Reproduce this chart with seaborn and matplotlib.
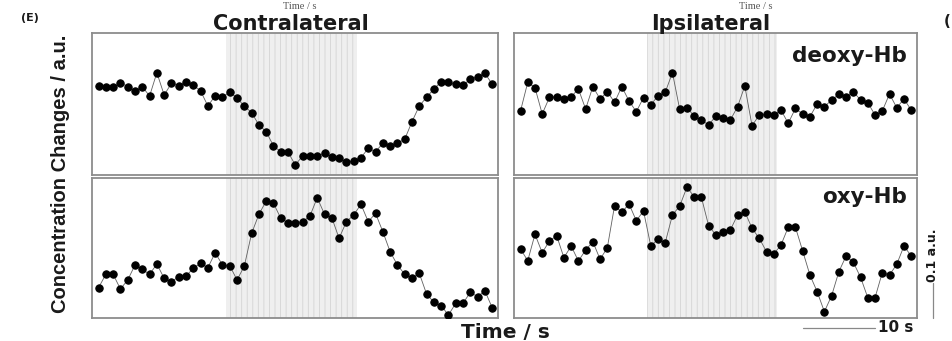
import numpy as np
import pandas as pd
import seaborn as sns
import matplotlib.pyplot as plt

# samples taken once per second, stimulation block shaded
time_s = np.arange(55)
stim_on, stim_off = 17.5, 35.5

# values in units of 1/350 a.u. (scale bar 0.1 a.u. = 35 units)
deoxy_contra = [89, 87.7, 87.7, 92.3, 88.3, 84, 88.3, 79, 102.3, 80,
                91.7, 89.3, 93.3, 90, 84, 69, 79.3, 77.7, 83.3, 76.7,
                69, 62.3, 50, 43.3, 29, 23.3, 22.7, 10, 19.3, 19,
                19, 21.7, 18.3, 16.7, 12.7, 14.3, 17.3, 26.7, 23.3, 31.7,
                29.3, 31.7, 35.7, 53.3, 69, 77.7, 86, 93.3, 92.7, 90.7,
                90, 95.7, 98.3, 101.7, 91]
oxy_contra = [30.3, 43.7, 43.7, 29, 38, 53, 48.7, 43.7, 54, 39.7,
              36.3, 41.3, 42, 49.7, 54.7, 50.3, 65.3, 53, 52.3, 38,
              52, 84.7, 103.7, 117, 114.7, 99.7, 95.3, 95, 96.3, 102,
              120.3, 103.7, 100.3, 79.7, 96.3, 103, 113.7, 96.3, 104.7, 86.3,
              66.3, 53, 43.7, 39.7, 44.7, 24, 15.7, 12.3, 3, 14.7,
              14.7, 25.7, 21.3, 27.3, 10.3]
deoxy_ipsi = [64, 92.7, 87.3, 61, 77.7, 78.3, 76, 78.3, 86, 66,
              88.3, 76, 83.3, 72.7, 88.3, 74, 63.3, 77.3, 70, 79.3,
              82.7, 102.3, 65.7, 67.3, 59, 55, 50, 59, 57.3, 55,
              68.3, 89, 49.3, 60, 60.7, 60, 65, 51.7, 66.7, 60.7,
              58.3, 71, 68.3, 75, 80.7, 78.3, 83.3, 75, 72.3, 60,
              64, 81, 67.3, 76, 65]
oxy_ipsi = [69, 57.3, 83.7, 65.3, 77, 82.3, 60.3, 72, 57, 68,
            76.3, 58.7, 70.3, 112.3, 105.7, 114, 97.3, 107, 72.3, 78.7,
            75.3, 103, 112, 130.7, 121.3, 120.7, 92.3, 83, 85.7, 88,
            103, 106.3, 89.7, 79.7, 66.3, 64, 73, 90.7, 90.7, 67,
            43, 26.3, 6.3, 22.3, 46.3, 62, 55.7, 40.7, 20.3, 20.3,
            45.3, 43, 53.7, 72, 62]

scale_time_s = 10
scale_conc = 35  # 0.1 a.u.

sns.set_style("white")
plt.rcParams['font.family'] = ['DejaVu Sans']
plt.rcParams['hatch.linewidth'] = 0.6

W, H = 953, 341
fig = plt.figure(figsize=(W / 100, H / 100), dpi=100)
txt = '#1a1a1a'


def px_axes(x0, y0, x1, y1):
    return fig.add_axes([x0 / W, 1 - y1 / H, (x1 - x0) / W, (y1 - y0) / H])


def draw_panel(ax, values, ylim, label=None, label_y=0.8):
    ax.axvspan(stim_on, stim_off, facecolor='#efefef', edgecolor='#d4d4d4',
               hatch='|||', linewidth=0, zorder=0)
    sns.lineplot(x=time_s, y=values, ax=ax, color='#606060', linewidth=0.6,
                 marker='o', markersize=5.3, markerfacecolor='black',
                 markeredgecolor='black', zorder=3)
    ax.set_xlim(-0.9, 54.8)
    ax.set_ylim(*ylim)
    ax.set_xticks([])
    ax.set_yticks([])
    ax.set_xlabel('')
    ax.set_ylabel('')
    for s in ax.spines.values():
        s.set_color('#8c8c8c')
        s.set_linewidth(1.3)
    if label:
        ax.text(0.975, label_y, label, transform=ax.transAxes, ha='right',
                va='baseline', fontsize=15.5, fontweight='bold', color=txt)


ax_dc = px_axes(92, 33, 498, 175)
ax_oc = px_axes(92, 178, 498, 318)
ax_di = px_axes(514, 33, 917, 175)
ax_oi = px_axes(514, 178, 917, 318)

draw_panel(ax_dc, deoxy_contra, (0, 142))
draw_panel(ax_oc, oxy_contra, (0, 140))
draw_panel(ax_di, deoxy_ipsi, (0, 142), 'deoxy-Hb', 0.796)
draw_panel(ax_oi, oxy_ipsi, (0, 140), 'oxy-Hb', 0.821)

# scale bars
ax_oi.plot([39, 39 + scale_time_s], [-10, -10], color='#888888', lw=0.9, clip_on=False)
ax_oi.text(39 + scale_time_s + 0.4, -10, '10 s', ha='left', va='center',
           fontsize=11, fontweight='bold', color=txt)
ax_oi.plot([57, 57], [0, scale_conc], color='#888888', lw=0.9, clip_on=False)
ax_oi.text(57, scale_conc + 28, '0.1 a.u.', rotation=90, ha='center', va='center',
           fontsize=9, fontweight='bold', color=txt)

# labels
fig.text(291 / W, 1 - 30 / H, 'Contralateral', ha='center', va='baseline',
         fontsize=15, fontweight='bold', color=txt)
fig.text(711 / W, 1 - 30 / H, 'Ipsilateral', ha='center', va='baseline',
         fontsize=15, fontweight='bold', color=txt)
fig.text(300 / W, 1 - 9 / H, 'Time / s', ha='center', va='baseline',
         fontsize=7.5, family=['Liberation Serif'], color='#555555')
fig.text(756 / W, 1 - 9 / H, 'Time / s', ha='center', va='baseline',
         fontsize=7.5, family=['Liberation Serif'], color='#555555')
fig.text(505 / W, 1 - 338 / H, 'Time / s', ha='center', va='baseline',
         fontsize=14.5, fontweight='bold', color=txt)
fig.text(61 / W, 1 - 174 / H, 'Concentration Changes / a.u.', rotation=90,
         ha='center', va='center', fontsize=14.5, fontweight='bold',
         family=['Liberation Sans'], color=txt)
fig.text(30 / W, 1 - 18 / H, '(E)', ha='center', va='center',
         fontsize=8, fontweight='bold', color=txt)
fig.text(944 / W, 1 - 21 / H, '(', ha='left', va='center',
         fontsize=11, fontweight='bold', color=txt)

fig.savefig('out.png', dpi=100)
